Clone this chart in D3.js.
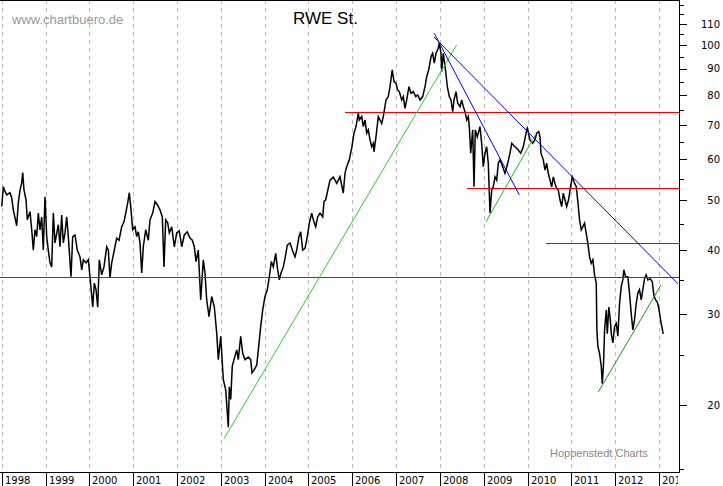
<!DOCTYPE html>
<html>
<head>
<meta charset="utf-8">
<script src="https://cdn.jsdelivr.net/npm/d3@7"></script>
<style>
body { margin: 0; background: #fff; }
text { font-family: "DejaVu Sans", sans-serif; }
</style>
</head>
<body>
<div id="chart"></div>
<script>
// Weekly-ish closes (decimal year, EUR).
var dates = [
  1998.000,1998.037,1998.075,1998.114,1998.189,1998.228,1998.265,1998.304,1998.342,1998.379,
  1998.418,1998.456,1998.479,1998.509,1998.555,1998.584,1998.646,1998.685,1998.721,1998.760,
  1998.799,1998.835,1998.874,1998.913,1998.949,1998.988,1999.027,1999.063,1999.102,1999.141,
  1999.178,1999.216,1999.292,1999.330,1999.369,1999.406,1999.444,1999.483,1999.520,1999.581,
  1999.620,1999.673,1999.725,1999.787,1999.826,1999.862,1999.924,1999.976,2000.015,2000.077,
  2000.113,2000.152,2000.191,2000.227,2000.282,2000.334,2000.396,2000.433,2000.471,2000.510,
  2000.563,2000.624,2000.677,2000.738,2000.791,2000.837,2000.875,2000.912,2000.951,2000.989,
  2001.042,2001.081,2001.117,2001.156,2001.195,2001.231,2001.286,2001.345,2001.384,2001.446,
  2001.498,2001.551,2001.612,2001.665,2001.704,2001.742,2001.788,2001.825,2001.879,2001.939,
  2001.993,2002.053,2002.108,2002.167,2002.235,2002.297,2002.350,2002.395,2002.434,2002.486,
  2002.541,2002.600,2002.639,2002.678,2002.731,2002.792,2002.852,2002.906,2002.943,2002.998,
  2003.057,2003.112,2003.171,2003.194,2003.226,2003.262,2003.301,2003.363,2003.399,2003.454,
  2003.500,2003.552,2003.627,2003.682,2003.712,2003.758,2003.819,2003.865,2003.910,2003.956,
  2004.008,2004.061,2004.107,2004.152,2004.198,2004.253,2004.298,2004.335,2004.374,2004.426,
  2004.472,2004.517,2004.579,2004.632,2004.693,2004.732,2004.784,2004.823,2004.869,2004.921,
  2004.974,2005.019,2005.074,2005.111,2005.165,2005.211,2005.264,2005.325,2005.355,2005.394,
  2005.492,2005.567,2005.645,2005.720,2005.795,2005.834,2005.873,2005.932,2005.987,2006.039,
  2006.085,2006.138,2006.160,2006.215,2006.252,2006.291,2006.329,2006.366,2006.405,2006.443,
  2006.480,2006.496,2006.541,2006.594,2006.633,2006.672,2006.708,2006.770,2006.822,2006.861,
  2006.913,2006.952,2006.998,2007.037,2007.073,2007.128,2007.165,2007.203,2007.242,2007.294,
  2007.340,2007.393,2007.448,2007.493,2007.546,2007.607,2007.660,2007.698,2007.744,2007.797,
  2007.835,2007.872,2007.911,2007.963,2007.986,2008.025,2008.041,2008.077,2008.132,2008.169,
  2008.214,2008.253,2008.292,2008.322,2008.367,2008.406,2008.459,2008.497,2008.534,2008.573,
  2008.611,2008.648,2008.671,2008.703,2008.748,2008.778,2008.808,2008.853,2008.914,2008.953,
  2008.990,2009.028,2009.067,2009.104,2009.143,2009.182,2009.218,2009.257,2009.296,2009.333,
  2009.371,2009.433,2009.485,2009.547,2009.600,2009.638,2009.714,2009.789,2009.844,2009.903,
  2009.981,2009.994,2010.056,2010.117,2010.169,2010.208,2010.254,2010.284,2010.306,2010.359,
  2010.398,2010.436,2010.473,2010.512,2010.551,2010.587,2010.625,2010.665,2010.702,2010.740,
  2010.779,2010.816,2010.854,2010.893,2010.936,2010.982,2011.020,2011.073,2011.112,2011.148,
  2011.187,2011.226,2011.301,2011.339,2011.376,2011.415,2011.454,2011.491,2011.529,2011.568,
  2011.582,2011.605,2011.643,2011.682,2011.705,2011.735,2011.758,2011.797,2011.819,2011.856,
  2011.888,2011.911,2011.947,2011.986,2012.025,2012.061,2012.100,2012.138,2012.175,2012.198,
  2012.237,2012.289,2012.327,2012.366,2012.403,2012.441,2012.480,2012.517,2012.555,2012.594,
  2012.631,2012.669,2012.708,2012.745,2012.800,2012.846,2012.882,2012.921,2012.960,2012.996,
  2013.035,2013.064,2013.096
];
var prices = [
  48.6,53.1,52.0,51.2,51.7,50.5,47.9,46.2,44.6,49.4,
  52.3,54.0,56.6,52.3,50.1,45.8,47.5,43.8,40.0,43.8,
  42.5,47.2,43.8,46.4,40.0,50.8,42.5,40.0,37.8,37.1,
  47.2,41.3,44.8,40.6,46.8,41.3,43.2,46.4,42.5,35.5,
  42.5,42.8,40.0,38.8,36.6,38.3,37.8,38.3,35.5,31.0,
  34.5,33.5,31.0,38.3,35.8,37.1,40.6,40.0,35.3,37.8,
  39.7,42.2,41.8,44.4,45.4,47.5,49.4,51.7,47.9,43.8,
  44.4,42.5,43.4,41.3,36.1,40.6,43.8,41.8,45.8,47.2,
  49.7,49.0,47.9,46.4,37.1,45.8,45.2,43.2,44.4,40.6,
  43.2,43.6,40.6,42.8,43.4,42.2,41.8,40.6,38.0,40.0,
  32.0,38.3,36.1,32.0,29.7,32.5,31.0,27.6,24.5,27.2,
  22.4,21.4,18.1,21.7,20.5,23.8,24.5,25.6,24.5,27.2,
  25.2,24.5,24.8,24.5,23.1,23.4,23.9,26.0,28.4,30.6,
  32.5,33.5,35.5,38.0,37.1,39.4,36.6,35.0,36.1,37.1,
  38.8,40.9,41.3,40.0,38.8,40.0,42.5,43.4,40.0,40.3,
  42.5,45.1,47.2,45.8,44.4,46.4,47.2,46.4,49.7,50.1,
  54.7,55.5,53.9,55.5,51.6,56.4,58.1,59.9,63.1,67.5,
  69.5,73.8,71.6,72.7,69.5,71.6,67.5,68.5,65.5,63.5,
  64.5,62.1,66.4,72.7,71.6,70.5,72.7,78.3,79.5,83.1,
  89.6,85.0,84.4,81.9,81.3,78.3,79.5,75.4,78.3,83.1,
  80.7,81.3,79.5,80.1,78.3,79.5,83.1,86.9,89.6,95.0,
  96.5,92.3,96.5,98.7,101.2,96.5,88.9,96.5,88.9,83.1,
  79.5,78.3,74.3,78.3,81.3,77.2,76.0,78.3,76.0,74.3,
  71.6,72.7,69.5,61.7,68.5,53.1,68.5,66.4,69.5,64.5,
  58.1,61.7,63.5,59.0,47.2,52.3,53.1,55.5,54.7,59.0,
  59.9,58.1,56.4,59.0,61.7,64.5,63.5,62.6,61.7,63.5,
  68.5,69.0,65.5,64.5,65.5,67.5,68.0,66.4,61.7,59.9,
  57.2,59.0,56.4,54.7,53.1,55.5,53.9,52.7,52.3,50.1,
  48.6,51.6,50.1,48.6,50.1,53.1,55.5,53.9,53.1,49.7,
  45.8,43.8,45.1,43.1,41.2,38.8,37.7,38.3,35.8,34.5,
  28.0,26.0,25.2,23.8,22.0,24.1,28.0,30.6,27.5,31.0,
  29.3,27.5,26.4,28.4,28.8,27.2,31.5,34.0,35.0,36.6,
  35.5,35.5,33.0,30.1,28.0,29.3,31.5,33.0,33.5,32.0,
  33.5,35.2,35.8,35.0,35.2,34.7,32.7,32.0,31.7,30.8,
  29.3,28.4,27.5
];

// Axis ticks
var yearTicks = d3.range(1998, 2014);
var priceMajor = [20, 30, 40, 50, 60, 70, 80, 90, 100, 110];
var priceMinor = [15, 25, 35, 45, 55, 65, 75, 85, 95, 105, 115, 120];

// Horizontal resistance/support levels (value, start year)
var levelValues = [74.1, 52.8, 41.2, 35.4];
var levelStarts = [2005.834, 2008.618, 2010.421, 1997.961];

// Trend lines: [[year, price], [year, price]]
var greenTrends = [
  [[2003.073, 17.2], [2008.383, 100.2]],
  [[2009.051, 45.4], [2010.193, 67.3]],
  [[2011.614, 21.2], [2013.045, 34.2]]
];
var greenColors = ["#33cc33", "#22bb22", "#119911"];
var blueTrends = [
  [[2007.872, 105.5], [2009.811, 51.2]],
  [[2007.865, 103.8], [2013.434, 34.4]]
];

var width = 723, height = 486;
var plotRight = 680, axisY = 472;

var x = d3.scaleLinear().domain([1997.961, 2013.479]).range([0, plotRight]);
var y = d3.scaleLog().domain([20, 110]).range([405, 24]);

var svg = d3.select("#chart").append("svg")
    .attr("width", width)
    .attr("height", height);

svg.append("defs").append("clipPath").attr("id", "plot")
    .append("rect").attr("x", 0).attr("y", 0).attr("width", plotRight).attr("height", axisY);
svg.select("defs").append("clipPath").attr("id", "labels")
    .append("rect").attr("x", 0).attr("y", axisY).attr("width", plotRight - 2).attr("height", height - axisY);

// Vertical dashed year grid
svg.append("g").selectAll("line")
    .data(yearTicks)
    .enter().append("line")
    .attr("x1", function(d) { return Math.round(x(d)) + 0.5; })
    .attr("x2", function(d) { return Math.round(x(d)) + 0.5; })
    .attr("y1", 0).attr("y2", axisY)
    .attr("stroke", "#bbb")
    .attr("stroke-dasharray", "4,4")
    .attr("shape-rendering", "crispEdges");

// Watermarks and title
svg.append("text").attr("x", 12).attr("y", 24)
    .style("font-family", "Liberation Sans, Arial, sans-serif")
    .style("font-size", "13px").attr("fill", "#999")
    .text("www.chartbuero.de");

svg.append("text").attr("x", 293).attr("y", 24)
    .style("font-family", "Liberation Sans, Arial, sans-serif")
    .style("font-size", "17px").attr("fill", "#000")
    .text("RWE St.");

svg.append("text").attr("x", 550).attr("y", 457)
    .style("font-family", "Liberation Sans, Arial, sans-serif")
    .style("font-size", "11px").attr("fill", "#888")
    .text("Hoppenstedt Charts");

var plot = svg.append("g").attr("clip-path", "url(#plot)");

// Price line
var series = dates.map(function(d, i) { return [d, prices[i]]; });
var line = d3.line()
    .x(function(d) { return x(d[0]); })
    .y(function(d) { return y(d[1]); });

plot.append("path")
    .datum(series)
    .attr("d", line)
    .attr("fill", "none")
    .attr("stroke", "#000")
    .attr("stroke-width", 1.5)
    .attr("stroke-linejoin", "miter");

// Levels
plot.append("g").selectAll("line")
    .data(levelValues)
    .enter().append("line")
    .attr("x1", function(d, i) { return x(levelStarts[i]); })
    .attr("x2", plotRight)
    .attr("y1", function(d) { return Math.round(y(d)) + 0.5; })
    .attr("y2", function(d) { return Math.round(y(d)) + 0.5; })
    .attr("stroke", "#ee0000")
    .attr("stroke-width", 1.2)
    .attr("shape-rendering", "crispEdges");

// Trend lines
plot.append("g").selectAll("path")
    .data(greenTrends)
    .enter().append("path")
    .attr("d", line)
    .attr("fill", "none")
    .attr("stroke", function(d, i) { return greenColors[i]; })
    .attr("stroke-width", 1);

plot.append("g").selectAll("path")
    .data(blueTrends)
    .enter().append("path")
    .attr("d", line)
    .attr("fill", "none")
    .attr("stroke", "#0000ee")
    .attr("stroke-width", 1);

// Frame: top border, bottom axis, right axis
svg.append("line").attr("x1", 0).attr("x2", plotRight).attr("y1", 0.5).attr("y2", 0.5)
    .attr("stroke", "#000").attr("shape-rendering", "crispEdges");
svg.append("line").attr("x1", 0).attr("x2", plotRight).attr("y1", axisY + 0.5).attr("y2", axisY + 0.5)
    .attr("stroke", "#000").attr("shape-rendering", "crispEdges");
svg.append("line").attr("x1", plotRight - 0.5).attr("x2", plotRight - 0.5).attr("y1", 0).attr("y2", axisY + 1)
    .attr("stroke", "#000").attr("shape-rendering", "crispEdges");

// Year ticks and labels
var xg = svg.append("g").attr("clip-path", "url(#labels)");
xg.selectAll("line")
    .data(yearTicks)
    .enter().append("line")
    .attr("x1", function(d) { return Math.round(x(d)) + 0.5; })
    .attr("x2", function(d) { return Math.round(x(d)) + 0.5; })
    .attr("y1", axisY).attr("y2", height)
    .attr("stroke", "#000")
    .attr("shape-rendering", "crispEdges");
xg.selectAll("text")
    .data(yearTicks)
    .enter().append("text")
    .attr("x", function(d) { return Math.round(x(d)) + 3; })
    .attr("y", 484)
    .style("font-size", "10px")
    .attr("fill", "#000")
    .text(function(d) { return d; });

// Price axis on the right
var yg = svg.append("g");
yg.selectAll("line.major")
    .data(priceMajor)
    .enter().append("line")
    .attr("class", "major")
    .attr("x1", plotRight).attr("x2", plotRight + 7)
    .attr("y1", function(d) { return Math.round(y(d)) + 0.5; })
    .attr("y2", function(d) { return Math.round(y(d)) + 0.5; })
    .attr("stroke", "#000").attr("shape-rendering", "crispEdges");
yg.selectAll("line.minor")
    .data(priceMinor)
    .enter().append("line")
    .attr("class", "minor")
    .attr("x1", plotRight).attr("x2", plotRight + 4)
    .attr("y1", function(d) { return Math.round(y(d)) + 0.5; })
    .attr("y2", function(d) { return Math.round(y(d)) + 0.5; })
    .attr("stroke", "#000").attr("shape-rendering", "crispEdges");
yg.selectAll("text")
    .data(priceMajor)
    .enter().append("text")
    .attr("x", 720)
    .attr("y", function(d) { return y(d) + 3.5; })
    .attr("text-anchor", "end")
    .style("font-size", "10px")
    .attr("fill", "#000")
    .text(function(d) { return d; });
</script>
</body>
</html>
